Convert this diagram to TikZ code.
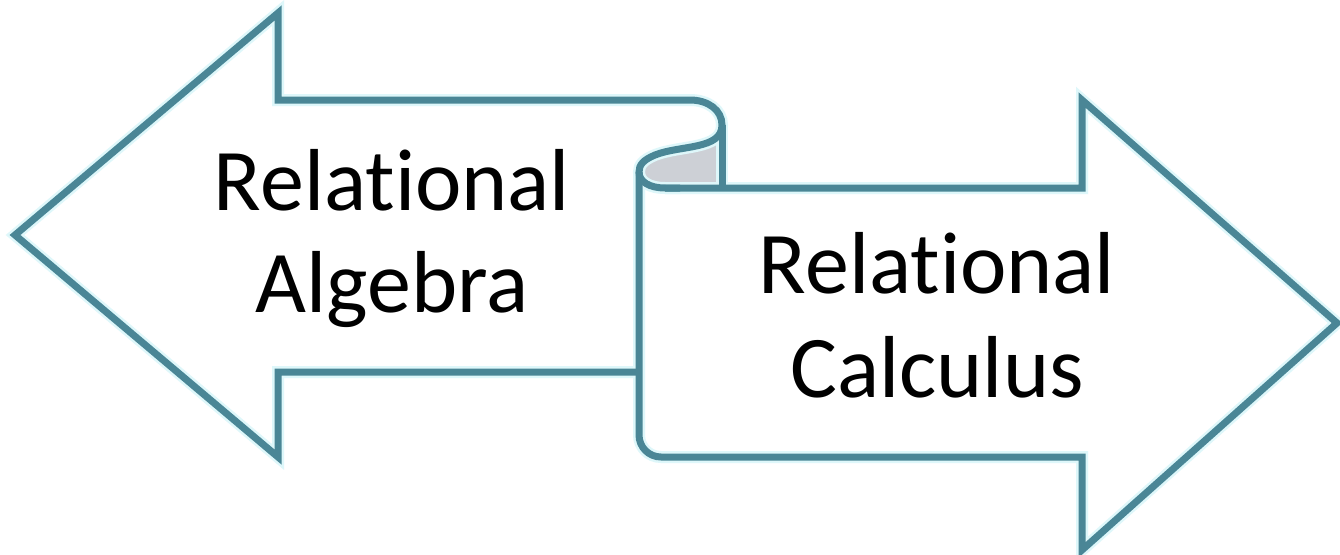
\documentclass[tikz,border=0pt]{standalone}
\usepackage{fontspec}
\setmainfont{Carlito}[Ligatures={NoCommon}]
\definecolor{edge}{RGB}{74,134,150}
\definecolor{halo}{RGB}{222,247,250}
\definecolor{curl}{RGB}{205,208,214}
\begin{document}
\begin{tikzpicture}[x=1pt,y=-1pt,
  outline/.style={draw=edge,line width=7pt,line join=miter},
  glow/.style={draw=halo,line width=12pt,line join=miter},
  label/.style={font=\fontsize{88}{102}\selectfont,anchor=base,inner sep=0pt}]
\useasboundingbox[fill=white] (0,0) rectangle (1340,554);

% outline pieces of both arrows and the scroll between them
\def\calcbody{(639,172) -- (639,435) arc[start angle=180,end angle=270,radius=22pt]
  -- (1082,457) -- (1082,550) -- (1337,323) -- (1082,100) -- (1082,188) -- (665,188)}
\def\scrollside{(722,188) -- (722,125)}
\def\algbody{(639,372) -- (278,372) -- (278,457) -- (15,235) -- (278,13)
  -- (278,100) -- (690,100) .. controls (708,100) and (722,110) .. (722,125)
  .. controls (722,150) and (680,145) .. (655,155)
  .. controls (643,160) and (639,165) .. (639,172)
  .. controls (639,182) and (650,188) .. (665,188) -- (680,188)}

% white faces and the shaded underside of the roll
\fill[white] (639,172) -- (639,457) -- (1082,457) -- (1082,550) -- (1337,323)
  -- (1082,100) -- (1082,188) -- (665,188) -- cycle;
\fill[white] (639,372) -- (278,372) -- (278,457) -- (15,235) -- (278,13)
  -- (278,100) -- (690,100) .. controls (708,100) and (722,110) .. (722,125)
  .. controls (722,150) and (680,145) .. (655,155)
  .. controls (643,160) and (639,165) .. (639,172) -- cycle;
\fill[curl] (722,125) .. controls (722,150) and (680,145) .. (655,155)
  .. controls (643,160) and (639,165) .. (639,172)
  .. controls (639,182) and (650,188) .. (665,188) -- (722,188) -- cycle;

% soft halo first, then the outlines on top
\draw[glow] \calcbody;
\draw[glow] \scrollside;
\draw[glow] \algbody;
\draw[outline] \calcbody;
\draw[outline] \scrollside;
\draw[outline] \algbody;

% labels
\node[label] (alg1) at (392,210) {Relational};
\node[label] (alg2) at (392,312) {Algebra};
\node[label] (calc1) at (937,293) {Relational};
\node[label] (calc2) at (937,397) {Calculus};
\end{tikzpicture}
\end{document}
